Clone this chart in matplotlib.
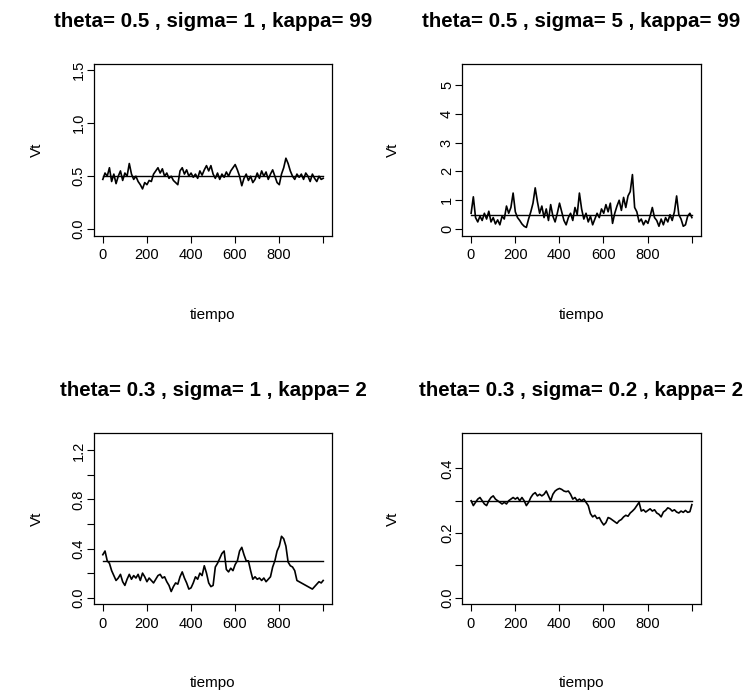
import numpy as np
import matplotlib
matplotlib.use('Agg')
import matplotlib.pyplot as plt

plt.rcParams['font.family'] = ['Liberation Sans', 'DejaVu Sans']

# muestras leidas cada 10 pasos (t = 1, 11, ..., 991, 1000)
t = np.append(np.arange(1, 1000, 10), 1000)

vt_a = [0.47, 0.53, 0.50, 0.58, 0.45, 0.52, 0.43, 0.50, 0.55, 0.46,
        0.53, 0.50, 0.62, 0.52, 0.47, 0.50, 0.45, 0.42, 0.38, 0.44,
        0.42, 0.46, 0.45, 0.52, 0.55, 0.58, 0.53, 0.57, 0.50, 0.53,
        0.48, 0.50, 0.46, 0.44, 0.42, 0.55, 0.58, 0.52, 0.56, 0.50,
        0.53, 0.49, 0.52, 0.48, 0.55, 0.51, 0.56, 0.60, 0.55, 0.60,
        0.52, 0.48, 0.53, 0.47, 0.52, 0.49, 0.54, 0.50, 0.55, 0.58,
        0.61, 0.56, 0.50, 0.41, 0.48, 0.52, 0.46, 0.50, 0.44, 0.47,
        0.53, 0.48, 0.55, 0.50, 0.54, 0.47, 0.52, 0.56, 0.50, 0.44,
        0.42, 0.52, 0.58, 0.67, 0.62, 0.55, 0.50, 0.47, 0.52, 0.49,
        0.52, 0.47, 0.53, 0.50, 0.45, 0.52, 0.48, 0.45, 0.50, 0.47, 0.48]

vt_b = [0.55, 1.12, 0.40, 0.25, 0.45, 0.30, 0.55, 0.35, 0.62, 0.25,
        0.40, 0.18, 0.32, 0.15, 0.45, 0.35, 0.80, 0.55, 0.75, 1.25,
        0.60, 0.40, 0.30, 0.18, 0.10, 0.06, 0.35, 0.60, 0.90, 1.43,
        0.95, 0.55, 0.80, 0.40, 0.70, 0.30, 0.85, 0.45, 0.25, 0.55,
        0.90, 0.60, 0.30, 0.15, 0.40, 0.55, 0.30, 0.75, 0.50, 1.25,
        0.70, 0.35, 0.55, 0.25, 0.45, 0.15, 0.35, 0.55, 0.40, 0.70,
        0.55, 0.85, 0.60, 0.90, 0.20, 0.55, 0.80, 1.00, 0.65, 1.10,
        0.75, 1.15, 1.30, 1.89, 0.75, 0.60, 0.25, 0.35, 0.15, 0.30,
        0.20, 0.45, 0.75, 0.40, 0.30, 0.10, 0.35, 0.15, 0.40, 0.25,
        0.50, 0.30, 0.60, 1.15, 0.50, 0.35, 0.10, 0.15, 0.45, 0.55, 0.40]

vt_c = [0.35, 0.38, 0.30, 0.28, 0.22, 0.18, 0.14, 0.16, 0.19, 0.13,
        0.10, 0.15, 0.19, 0.15, 0.18, 0.16, 0.19, 0.14, 0.20, 0.17,
        0.13, 0.16, 0.14, 0.12, 0.15, 0.18, 0.19, 0.16, 0.17, 0.13,
        0.10, 0.05, 0.09, 0.12, 0.11, 0.17, 0.21, 0.16, 0.12, 0.07,
        0.08, 0.12, 0.17, 0.15, 0.20, 0.18, 0.26, 0.20, 0.12, 0.09,
        0.10, 0.25, 0.28, 0.32, 0.36, 0.38, 0.23, 0.21, 0.24, 0.22,
        0.27, 0.30, 0.38, 0.41, 0.35, 0.30, 0.30, 0.22, 0.15, 0.17,
        0.15, 0.16, 0.14, 0.16, 0.13, 0.15, 0.17, 0.25, 0.30, 0.38,
        0.42, 0.50, 0.48, 0.42, 0.29, 0.26, 0.25, 0.22, 0.14, 0.13,
        0.12, 0.11, 0.10, 0.09, 0.08, 0.07, 0.09, 0.11, 0.13, 0.12, 0.14]

vt_d = [0.300, 0.285, 0.295, 0.305, 0.310, 0.300, 0.290, 0.285, 0.300, 0.310,
        0.315, 0.305, 0.300, 0.295, 0.290, 0.295, 0.290, 0.300, 0.305, 0.310,
        0.305, 0.310, 0.300, 0.310, 0.300, 0.285, 0.295, 0.310, 0.320, 0.325,
        0.315, 0.320, 0.315, 0.320, 0.330, 0.315, 0.300, 0.320, 0.330, 0.335,
        0.338, 0.335, 0.330, 0.328, 0.330, 0.320, 0.305, 0.310, 0.300, 0.305,
        0.300, 0.305, 0.295, 0.285, 0.260, 0.250, 0.255, 0.245, 0.248, 0.235,
        0.225, 0.232, 0.248, 0.245, 0.240, 0.235, 0.230, 0.238, 0.242, 0.250,
        0.255, 0.252, 0.262, 0.268, 0.275, 0.285, 0.295, 0.268, 0.272, 0.265,
        0.270, 0.275, 0.268, 0.272, 0.262, 0.258, 0.250, 0.265, 0.270, 0.278,
        0.275, 0.268, 0.272, 0.265, 0.262, 0.268, 0.264, 0.270, 0.264, 0.266, 0.288]

thetas = [0.5, 0.5, 0.3, 0.3]
titulos = ['theta= 0.5 , sigma= 1 , kappa= 99',
           'theta= 0.5 , sigma= 5 , kappa= 99',
           'theta= 0.3 , sigma= 1 , kappa= 2',
           'theta= 0.3 , sigma= 0.2 , kappa= 2']
ylims = [(0, 1.5), (0, 5.5), (0, 1.29), (0, 0.49)]
yticks = [[0, 0.5, 1.0, 1.5], [0, 1, 2, 3, 4, 5],
          [0, 0.2, 0.4, 0.6, 0.8, 1.0, 1.2], [0, 0.1, 0.2, 0.3, 0.4]]
ylabels = [['0.0', '0.5', '1.0', '1.5'], ['0', '1', '2', '3', '4', '5'],
           ['0.0', '', '0.4', '', '0.8', '', '1.2'], ['0.0', '', '0.2', '', '0.4']]
xticks = [0, 200, 400, 600, 800, 1000]
xlabels = ['0', '200', '400', '600', '800', '']
series = [vt_a, vt_b, vt_c, vt_d]

W, H = 747, 692
fig = plt.figure(figsize=(W / 100, H / 100), dpi=100)
boxes = [(94, 64, 332, 235.5), (462.3, 64, 700.7, 235.5),
         (94, 433, 332, 604), (462.3, 433, 700.7, 604)]

for i in range(4):
    x0, y0, x1, y1 = boxes[i]
    ax = fig.add_axes([x0 / W, 1 - y1 / H, (x1 - x0) / W, (y1 - y0) / H])
    ax.plot(t, series[i], color='black', lw=1.2)
    ax.plot([1, 1000], [thetas[i], thetas[i]], color='black', lw=1.0)
    ax.set_xlim(1 - 0.04 * 999, 1000 + 0.04 * 999)
    lo, hi = ylims[i]
    ax.set_ylim(lo - 0.04 * (hi - lo), hi + 0.04 * (hi - lo))
    ax.set_xticks(xticks)
    ax.set_xticklabels(xlabels, fontsize=10.5)
    ax.set_yticks(yticks[i])
    ax.set_yticklabels(ylabels[i], fontsize=10.5, rotation=90, va='center')
    ax.tick_params(direction='out', length=5, width=0.8, color='black')
    ax.tick_params(axis='x', pad=4)
    ax.tick_params(axis='y', pad=1)
    for s in ax.spines.values():
        s.set_linewidth(0.9)
    ax.set_title(titulos[i], fontsize=14.8, fontweight='bold', pad=26.5)
    ax.set_xlabel('tiempo', fontsize=11)
    ax.set_ylabel('Vt', fontsize=11)
    ax.xaxis.set_label_coords(0.5, -0.42)
    ax.yaxis.set_label_coords(-0.21 if i % 2 == 0 else -0.26, 0.5)

fig.savefig('out.png', dpi=100)
